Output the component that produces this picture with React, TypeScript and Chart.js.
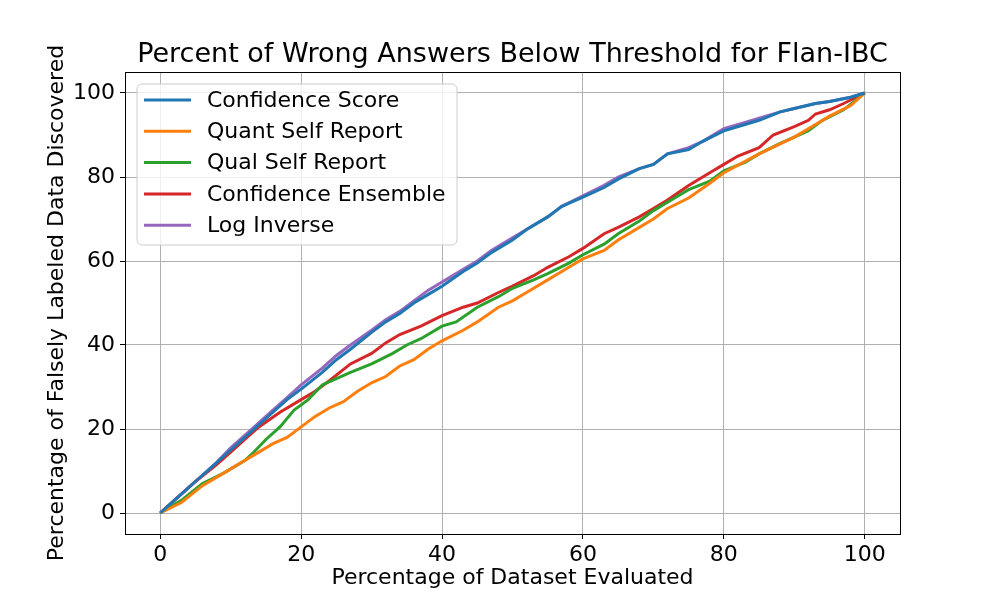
import React, { useEffect, useRef } from "react";
import { Chart, registerables } from "chart.js";

Chart.register(...registerables);

const titleText = "Percent of Wrong Answers Below Threshold for Flan-IBC";
const xLabel = "Percentage of Dataset Evaluated";
const yLabel = "Percentage of Falsely Labeled Data Discovered";
const tickValues = [0, 20, 40, 60, 80, 100];

const seriesNames = ["Confidence Score", "Quant Self Report", "Qual Self Report", "Confidence Ensemble", "Log Inverse"];
const seriesColors = ["#1f77b4", "#ff7f0e", "#2ca02c", "#d62728", "#9467bd"];

const blueX = [0,2,5,8,10,13,15,18,20,23,25,27,30,32,34,36,38,40,43,45,47,50,52,55,57,60,63,65,68,70,72,75,77,80,83,85,88,90,93,95,98,100];
const blueY = [0,3,7.5,12,15,19.5,22.5,27,29.5,33.5,36.5,39,43,45.5,47.5,50,52,54,57.5,59.5,62,65,67.5,70.5,73,75.2,77.5,79.5,82,83,85.5,86.5,88.5,91,92.5,93.5,95.5,96.3,97.5,98,99,100];

const orangeX = [0,3,6,9,12,14,16,18,20,22,24,26,28,30,32,34,36,38,40,43,45,48,50,53,55,58,60,63,65,68,70,72,75,78,80,85,90,93,95,98,100];
const orangeY = [0,2.5,6.5,9.5,12.5,14.5,16.5,18,20.5,23,25,26.5,29,31,32.5,35,36.5,39,41,43.5,45.5,49,50.5,53.5,55.5,58.5,60.5,62.5,65,68,70,72.5,75,78.5,81,85.5,89.5,92.5,94.5,97,100];

const greenX = [0,3,6,9,12,13,15,17,19,21,23,25,27,30,33,35,37,40,42,45,48,50,53,55,58,60,63,65,68,70,73,75,78,80,83,85,88,90,92,94,97,100];
const greenY = [0,3,7,9.5,12.5,14,17.5,20.5,24.5,27,30.5,32,33.5,35.5,38,40,41.5,44.5,45.5,49,51.5,53.5,55.5,57,59.5,61.5,64,66.5,69.5,72,75,77,79,81.5,83.5,85.5,88,89.5,91,93.5,96,100];

const redX = [0,2,5,8,10,12,14,17,20,22,24,27,30,32,34,37,40,43,45,48,50,53,55,58,60,63,65,68,70,72,75,78,80,82,85,87,90,92,93,95,97,100];
const redY = [0,3,7.5,11.5,14.5,17.5,20.5,24,27,29,31.5,35.5,38,40.5,42.5,44.5,47,49,50,52.5,54,56.5,58.5,61,63,66.5,68,70.5,72.5,74.5,78,81,83,85,87,90,92,93.5,95,96,97.5,100];

const purpleX = [0,2,5,8,10,13,15,18,20,23,25,27,30,32,34,36,38,40,43,45,47,50,52,55,57,60,63,65,68,70,72,75,77,80,83,85,88,90,93,95,98,100];
const purpleY = [0,3,7.5,12,15.5,20,23,27.5,30.5,34.5,37.5,40,43.5,46,48,50.5,53,55,58,60,62.5,65.5,67.5,70.5,73,75.5,78,80,82,83,85.5,87,88.5,91.5,93,94,95.5,96.3,97.5,98,99,100];

const seriesX = [blueX, orangeX, greenX, redX, purpleX];
const seriesY = [blueY, orangeY, greenY, redY, purpleY];

const FONT = "'DejaVu Sans', sans-serif";

const overlayPlugin = {
  id: "overlay",
  afterDraw(chart: any) {
    const ctx = chart.ctx;
    const a = chart.chartArea;
    ctx.save();
    ctx.strokeStyle = "#000";
    ctx.lineWidth = 1;
    ctx.strokeRect(a.left + 0.5, a.top + 0.5, a.right - a.left, a.bottom - a.top);
    ctx.fillStyle = "#000";
    ctx.textAlign = "center";
    ctx.textBaseline = "middle";
    ctx.font = `27px ${FONT}`;
    ctx.fillText(titleText, (a.left + a.right) / 2, 55);
    ctx.font = `22px ${FONT}`;
    ctx.fillText(xLabel, (a.left + a.right) / 2, 578);
    ctx.save();
    ctx.translate(57, (a.top + a.bottom) / 2);
    ctx.rotate(-Math.PI / 2);
    ctx.fillText(yLabel, 0, 0);
    ctx.restore();
    const lx = 137, ly = 84, lw = 320, lh = 161, r = 5;
    ctx.beginPath();
    ctx.moveTo(lx + r, ly);
    ctx.arcTo(lx + lw, ly, lx + lw, ly + lh, r);
    ctx.arcTo(lx + lw, ly + lh, lx, ly + lh, r);
    ctx.arcTo(lx, ly + lh, lx, ly, r);
    ctx.arcTo(lx, ly, lx + lw, ly, r);
    ctx.closePath();
    ctx.fillStyle = "rgba(255,255,255,0.8)";
    ctx.fill();
    ctx.strokeStyle = "#cccccc";
    ctx.lineWidth = 1;
    ctx.stroke();
    ctx.textAlign = "left";
    ctx.font = `22px ${FONT}`;
    chart.data.datasets.forEach((ds: any, i: number) => {
      const cy = 100 + i * 31.3;
      ctx.strokeStyle = ds.borderColor;
      ctx.lineWidth = 3;
      ctx.beginPath();
      ctx.moveTo(144, cy);
      ctx.lineTo(191, cy);
      ctx.stroke();
      ctx.fillStyle = "#000";
      ctx.fillText(ds.label, 207, cy + 1);
    });
    ctx.restore();
  },
};

export default function App() {
  const ref = useRef<HTMLCanvasElement>(null);
  useEffect(() => {
    if (!ref.current) return;
    const datasets = seriesNames.map((name, i) => ({
      label: name,
      data: seriesX[i].map((x, j) => ({ x, y: seriesY[i][j] })),
      borderColor: seriesColors[i],
      backgroundColor: seriesColors[i],
      borderWidth: 3,
      pointRadius: 0,
      tension: 0,
      fill: false,
      showLine: true,
    }));
    const setTicks = (s: any) => {
      s.ticks = tickValues.map((v) => ({ value: v }));
    };
    const chart = new Chart(ref.current, {
      type: "scatter",
      data: { datasets },
      options: {
        animation: false,
        responsive: false,
        layout: { padding: { top: 72, right: 100, left: 0, bottom: 0 } },
        plugins: { legend: { display: false }, title: { display: false }, tooltip: { enabled: false } },
        scales: {
          x: {
            type: "linear",
            min: -5,
            max: 105,
            afterBuildTicks: setTicks,
            afterFit: (s: any) => { s.height = 66; },
            grid: { color: "#b0b0b0", lineWidth: 1, tickLength: 5, tickColor: "#000" },
            border: { color: "#000", width: 1 },
            ticks: { color: "#000", font: { family: FONT, size: 22 }, padding: 3, maxRotation: 0 },
          },
          y: {
            type: "linear",
            min: -5,
            max: 105,
            afterBuildTicks: setTicks,
            afterFit: (s: any) => { s.width = 125; },
            grid: { color: "#b0b0b0", lineWidth: 1, tickLength: 5, tickColor: "#000" },
            border: { color: "#000", width: 1 },
            ticks: { color: "#000", font: { family: FONT, size: 22 }, padding: 5 },
          },
        },
      },
      plugins: [overlayPlugin],
    });
    return () => chart.destroy();
  }, []);
  return (
    <div style={{ position: "fixed", left: 0, top: 0, width: 1000, height: 600, background: "#fff" }}>
      <canvas ref={ref} width={1000} height={600} />
    </div>
  );
}
